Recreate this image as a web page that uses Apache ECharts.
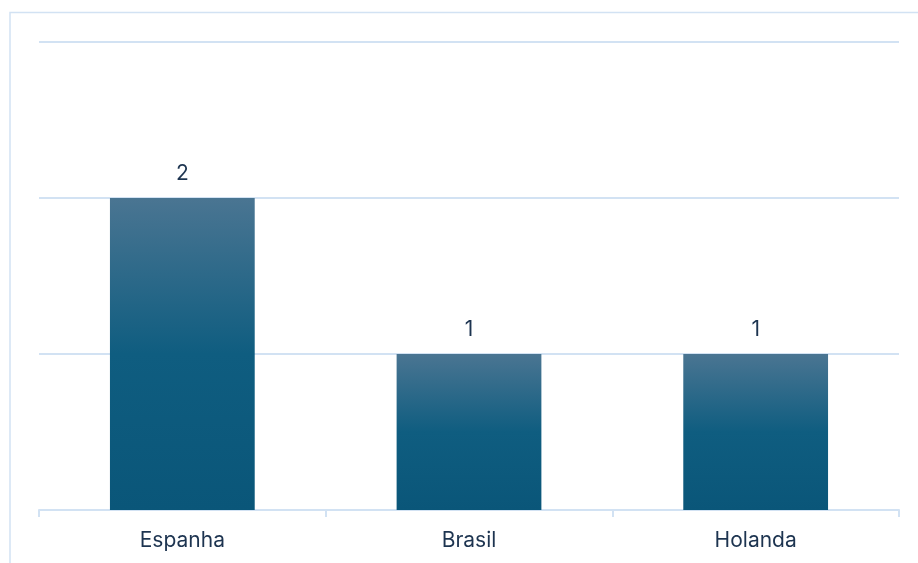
<!DOCTYPE html>
<html><head><meta charset="utf-8">
<script src="https://cdn.jsdelivr.net/npm/echarts@6/dist/echarts.min.js"></script>
<style>html,body{margin:0;padding:0;background:#fff}#c{width:918px;height:563px}</style>
</head><body><div id="c"></div>
<script>
const categories = ['Espanha', 'Brasil', 'Holanda'];
const values = [2, 1, 1];
const yTicks = [0, 1, 2, 3];

const chart = echarts.init(document.getElementById('c'), null, {renderer: 'canvas'});
chart.setOption({
  animation: false,
  backgroundColor: '#fff',
  graphic: [{
    type: 'rect', shape: {x: 10, y: 12.5, width: 940, height: 600},
    style: {fill: 'none', stroke: '#d2e2f3', lineWidth: 1.5}, z: -1
  }],
  grid: {left: 39, right: 19, top: 42, bottom: 53, containLabel: false},
  xAxis: {
    type: 'category', data: categories,
    axisLine: {show: true, lineStyle: {color: '#d2e2f3', width: 2}},
    axisTick: {show: true, length: 7, lineStyle: {color: '#d2e2f3', width: 2}},
    axisLabel: {color: '#1d3450', fontSize: 21, fontFamily: 'Inter', margin: 20}
  },
  yAxis: {
    type: 'value', min: yTicks[0], max: yTicks[yTicks.length - 1], interval: 1,
    axisLabel: {show: false}, axisLine: {show: false}, axisTick: {show: false},
    splitLine: {lineStyle: {color: '#d2e2f3', width: 2}}
  },
  series: [{
    type: 'bar', data: values, barWidth: '50.5%',
    itemStyle: {
      color: new echarts.graphic.LinearGradient(0, 0, 0, 1, [
        {offset: 0, color: '#4a7592'},
        {offset: 0.5, color: '#0f5d80'},
        {offset: 1, color: '#0a5679'}
      ])
    },
    label: {show: true, position: 'top', distance: 14, color: '#1d3450', fontSize: 21, fontFamily: 'Inter'}
  }]
});
</script></body></html>
